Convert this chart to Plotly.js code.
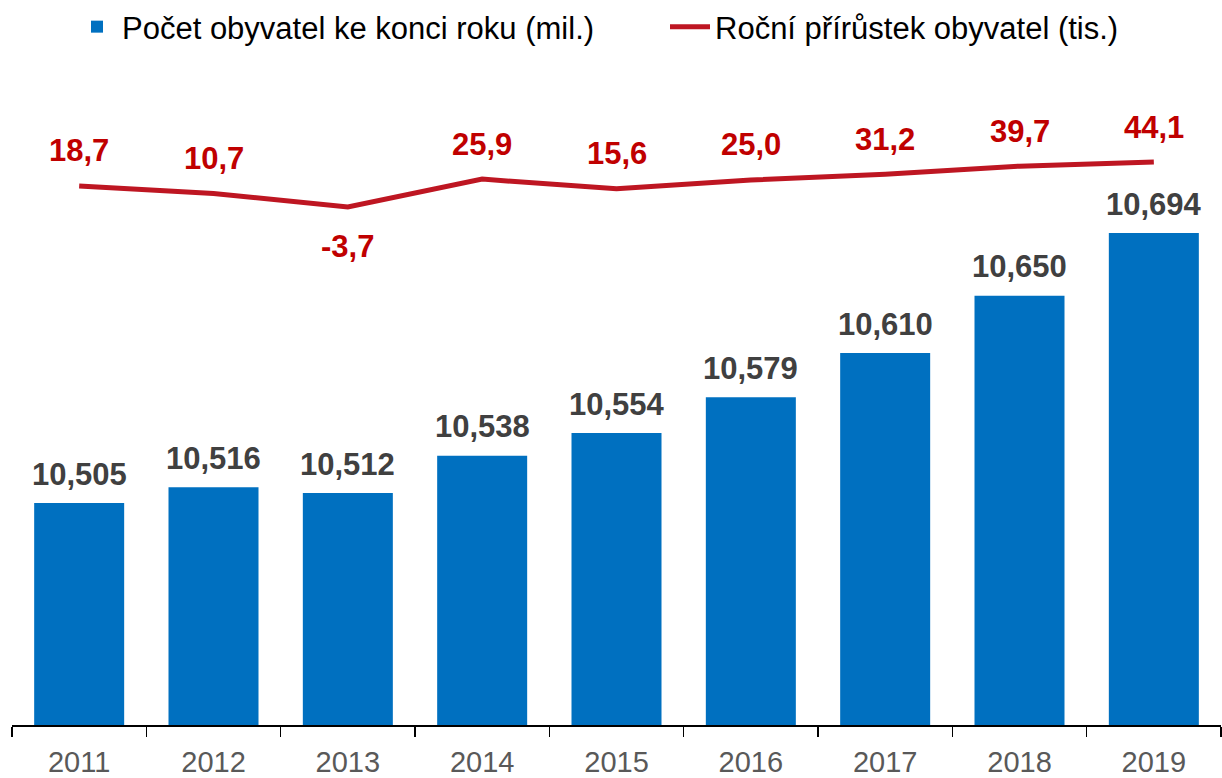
<!DOCTYPE html>
<html>
<head>
<meta charset="utf-8">
<script src="https://cdn.plot.ly/plotly-3.0.1.min.js"></script>
<style>html,body{margin:0;padding:0;background:#fff;}#chart{width:1222px;height:778px;}</style>
</head>
<body>
<div id="chart"></div>
<script>
const years = ['2011','2012','2013','2014','2015','2016','2017','2018','2019'];
const population = [10.505, 10.516, 10.512, 10.538, 10.554, 10.579, 10.610, 10.650, 10.694];
const growth = [18.7, 10.7, -3.7, 25.9, 15.6, 25.0, 31.2, 39.7, 44.1];
const barName = 'Počet obyvatel ke konci roku (mil.)';
const lineName = 'Roční přírůstek obyvatel (tis.)';

const FONT = 'Liberation Sans, Arial, sans-serif';
const fmt = (v, d) => v.toFixed(d).replace('.', ',');
const popLabels = population.map(v => v.toFixed(3).replace('.', ','));
const growthLabels = growth.map(v => fmt(v, 1));

const traces = [
  {type: 'bar', x: years, y: population, name: barName, legend: 'legend',
   marker: {color: '#0070C0'}, hoverinfo: 'skip'},
  {type: 'scatter', mode: 'lines', x: years, y: growth, yaxis: 'y2', name: lineName, legend: 'legend2',
   line: {color: '#BE1622', width: 5}, hoverinfo: 'skip'}
];

const annotations = [];
years.forEach((yr, i) => {
  annotations.push({x: i, y: population[i], xref: 'x', yref: 'y', text: popLabels[i],
    showarrow: false, yanchor: 'middle', yshift: 29,
    font: {family: FONT, size: 31, color: '#404040', weight: 'bold'}});
  const neg = growth[i] < 0;
  annotations.push({x: i, y: growth[i], xref: 'x', yref: 'y2', text: growthLabels[i],
    showarrow: false, yanchor: 'middle', yshift: neg ? -40 : 35,
    font: {family: FONT, size: 31, color: '#C00000', weight: 'bold'}});
});

const legendBase = {orientation: 'h', xref: 'container', yref: 'container', y: 1 - 27/778,
  xanchor: 'left', yanchor: 'middle', itemwidth: 40,
  font: {family: FONT, size: 31, color: '#000'}, bgcolor: 'rgba(0,0,0,0)'};

const layout = {
  width: 1222, height: 778,
  margin: {l: 12, r: 1, t: 60, b: 53},
  paper_bgcolor: '#fff', plot_bgcolor: '#fff',
  font: {family: FONT},
  bargap: 0.33,
  showlegend: true,
  legend: Object.assign({}, legendBase, {x: 72/1222}),
  legend2: Object.assign({}, legendBase, {x: 665/1222}),
  xaxis: {type: 'category', range: [-0.5, 8.5], showline: true, linecolor: '#000', linewidth: 1.5,
    ticks: 'outside', tickson: 'boundaries', ticklen: 10, tickcolor: '#000', tickwidth: 1.5,
    ticklabelstandoff: 11, automargin: false,
    tickfont: {family: FONT, size: 29, color: '#595959'}, showgrid: false, zeroline: false,
    fixedrange: true},
  yaxis: {range: [10.3496, 10.8151], visible: false, showgrid: false, zeroline: false, fixedrange: true},
  yaxis2: {range: [-554.2, 152.5], overlaying: 'y', side: 'right', visible: false,
    showgrid: false, zeroline: false, fixedrange: true},
  annotations: annotations
};

Plotly.newPlot('chart', traces, layout, {displayModeBar: false, staticPlot: true});
</script>
</body>
</html>
